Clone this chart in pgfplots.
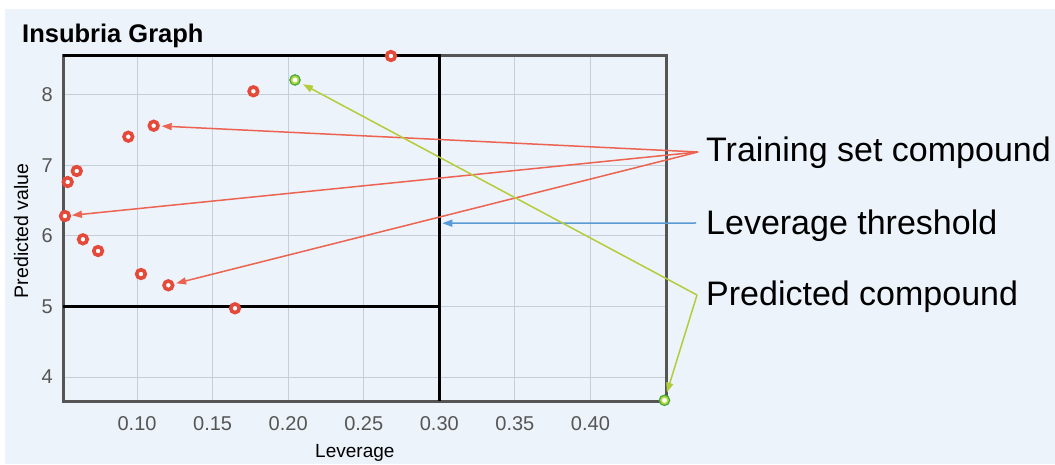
\documentclass[border=0pt]{standalone}
\usepackage{fontspec}
\setmainfont{Liberation Sans}
\usepackage{pgfplots}
\pgfplotsset{compat=1.18}
\usetikzlibrary{arrows.meta}
\definecolor{bg}{HTML}{EDF3FA}
\definecolor{gridc}{HTML}{C6CED9}
\definecolor{framec}{HTML}{555555}
\definecolor{redm}{HTML}{E5493A}
\definecolor{reda}{HTML}{EC6352}
\definecolor{bluea}{HTML}{5B9BD5}
\definecolor{greena}{HTML}{B5CC3A}
\definecolor{greenm}{HTML}{B2D83A}
\definecolor{greend}{HTML}{45A845}
\definecolor{tickc}{HTML}{555555}
\begin{document}
\begin{tikzpicture}[x=1pt,y=1pt]
\path[use as bounding box] (0,0) rectangle (1055,464);
\fill[bg] (5,0) rectangle (1055,455);
\node[anchor=base west, inner sep=0pt, font=\fontsize{25.5}{30}\selectfont\bfseries] at (22,421) {Insubria Graph};
\begin{axis}[
  at={(63pt,63pt)}, anchor=south west,
  scale only axis, width=603pt, height=345pt,
  xmin=0.051, xmax=0.45, ymin=3.66, ymax=8.55,
  clip=false,
  xtick={0.10,0.15,0.20,0.25,0.30,0.35,0.40},
  xticklabels={0.10,0.15,0.20,0.25,0.30,0.35,0.40},
  ytick={4,5,6,7,8},
  yticklabels={4,5,6,7,8},
  grid=major,
  major grid style={gridc, line width=1pt},
  major tick length=0pt,
  axis line style={framec, line width=3pt},
  tick label style={font=\fontsize{20}{24}\selectfont, text=tickc},
  xticklabel style={anchor=base, inner sep=0pt, yshift=-29pt},
  yticklabel style={anchor=east, inner sep=0pt, xshift=-10pt},
  xlabel={Leverage},
  xlabel style={at={(axis description cs:0.484,0)}, anchor=base, yshift=-56pt, inner sep=0pt, font=\fontsize{19}{22}\selectfont},
  ylabel={Predicted value},
  ylabel style={at={(axis description cs:-0.058,0.493)}, anchor=base, rotate=0, inner sep=0pt, font=\fontsize{19.5}{22}\selectfont},
]
% leverage threshold box
\addplot[black, line width=3pt, line join=miter] coordinates {(0.051,8.55) (0.30,8.55) (0.30,3.66)};
\addplot[black, line width=3pt] coordinates {(0.051,5) (0.30,5)};
% training set compounds
\addplot[only marks, color=redm, mark=*, mark size=4.3pt, mark options={solid, draw=redm, fill=white, line width=3.6pt}] coordinates {
(0.268,8.55) (0.177,8.05) (0.111,7.562) (0.0942,7.406) (0.0601,6.92) (0.0541,6.764)
(0.0523,6.282) (0.0642,5.952) (0.0742,5.786) (0.1026,5.46) (0.1207,5.30) (0.1648,4.974)};
% predicted compounds
\addplot[only marks, color=greenm, mark=*, mark size=5.2pt, mark options={solid, draw=greend, fill=greenm, line width=1.2pt}] coordinates {(0.2045,8.21) (0.449,3.67)};
\addplot[only marks, color=white, mark=*, mark size=2.2pt, mark options={solid, draw=none, fill=white}] coordinates {(0.2045,8.21) (0.449,3.67)};
\coordinate (t1) at (axis cs:0.111,7.562);
\coordinate (t2) at (axis cs:0.0523,6.282);
\coordinate (t3) at (axis cs:0.1207,5.30);
\coordinate (b1) at (axis cs:0.30,6.18);
\coordinate (g1) at (axis cs:0.2045,8.21);
\coordinate (g2) at (axis cs:0.449,3.67);
\end{axis}
\draw[reda, line width=1.5pt, -{Triangle[length=10pt,width=7pt]}, shorten >=8pt] (698,312) -- (t1);
\draw[reda, line width=1.5pt, -{Triangle[length=10pt,width=7pt]}, shorten >=7pt] (698,312) -- (t2);
\draw[reda, line width=1.5pt, -{Triangle[length=10pt,width=7pt]}, shorten >=8pt] (698,312) -- (t3);
\draw[bluea, line width=1.5pt, -{Triangle[length=10pt,width=7pt]}, shorten >=3pt] (696,241) -- (b1);
\draw[greena, line width=1.5pt, -{Triangle[length=10pt,width=7pt]}, shorten >=9pt] (697,169) -- (g1);
\draw[greena, line width=1.5pt, -{Triangle[length=10pt,width=7pt]}, shorten >=8pt] (697,169) -- (g2);
\node[anchor=base west, inner sep=0pt, font=\fontsize{34}{40}\selectfont] at (706,302.3) {Training set compound};
\node[anchor=base west, inner sep=0pt, font=\fontsize{34}{40}\selectfont] at (706,229) {Leverage threshold};
\node[anchor=base west, inner sep=0pt, font=\fontsize{34}{40}\selectfont] at (706,158) {Predicted compound};
\end{tikzpicture}
\end{document}
